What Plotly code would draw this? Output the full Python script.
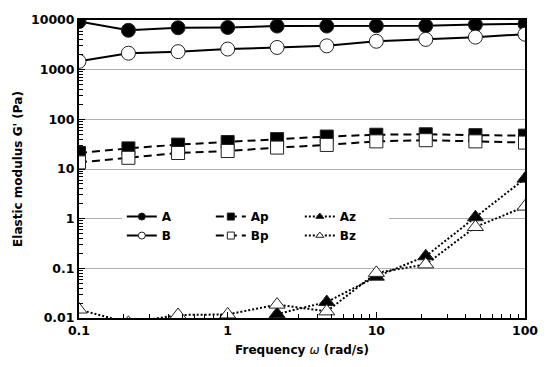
import plotly.graph_objects as go

freq = [0.1, 0.215, 0.464, 1.0, 2.15, 4.64, 10.0, 21.5, 46.4, 100.0]
A = [9300, 6200, 6980, 7080, 7540, 7540, 7640, 7640, 8100, 8350]
B = [1470, 2145, 2307, 2600, 2800, 3020, 3730, 4070, 4520, 5170]
Ap = [21, 26, 31, 35, 40, 45, 49, 50, 48, 47]
Bp = [13.6, 16.8, 21, 23, 27, 30.5, 36, 38, 36, 34]
Az = [None, None, None, None, 0.012, 0.021, 0.068, 0.175, 1.07, 6.4]
Bz = [0.0148, 0.008, 0.0115, 0.0118, 0.0186, 0.0136, 0.081, 0.12, 0.68, 1.75]

# tick labels (one per decade) and axis ranges in decades
y_ticktext = ["0.01", "0.1", "1", "10", "100", "1000", "10000"]
x_ticktext = ["0.1", "1", "10", "100"]
x_range_dec = [-1, 2]
y_range_dec = [-2, 4]

names = ["A", "B", "Ap", "Bp", "Az", "Bz"]
series = [A, B, Ap, Bp, Az, Bz]

FONT = "DejaVu Sans"
styles = {
    "A": dict(dash="solid", symbol="circle", fill="black", size=14, group="g1"),
    "B": dict(dash="solid", symbol="circle", fill="white", size=14, group="g1"),
    "Ap": dict(dash="8px,5px", symbol="square", fill="black", size=13, group="g2"),
    "Bp": dict(dash="8px,5px", symbol="square", fill="white", size=13, group="g2"),
    "Az": dict(dash="2px,2px", symbol="triangle-up", fill="black", size=14, group="g3"),
    "Bz": dict(dash="2px,2px", symbol="triangle-up", fill="white", size=14, group="g3"),
}

fig = go.Figure()
for name, vals in zip(names, series):
    s = styles[name]
    fig.add_trace(go.Scatter(
        x=freq, y=vals, mode="lines+markers", name=name, showlegend=False,
        line=dict(color="black", width=2, dash=s["dash"]),
        marker=dict(symbol=s["symbol"], size=s["size"], color=s["fill"],
                    line=dict(color="#222", width=1)),
    ))

# legend entries (no data points)
for name in names:
    s = styles[name]
    fig.add_trace(go.Scatter(
        x=[None], y=[None], mode="lines+markers", name=name, legendgroup=s["group"],
        line=dict(color="black", width=2, dash=s["dash"]),
        marker=dict(symbol=s["symbol"], size=7, color=s["fill"],
                    line=dict(color="#222", width=1)),
    ))

axis_common = dict(
    type="log", showline=True, linecolor="black", linewidth=2, mirror=True,
    ticks="inside", ticklen=6, tickcolor="black",
    tickmode="linear", tick0=0, dtick=1, tickformat="~g",
    tickfont=dict(family=FONT, size=12.5, color="black", weight="bold"),
    minor=dict(ticks="inside", ticklen=4, tickwidth=1, tickcolor="black", showgrid=False),
    zeroline=False,
)

fig.update_xaxes(
    **axis_common, range=x_range_dec, showgrid=False,
    labelalias={t: t for t in x_ticktext},
    title=dict(text="<b>Frequency </b><i>ω</i><b> (rad/s)</b>",
               font=dict(family=FONT, size=12, color="black"), standoff=9),
)
fig.update_yaxes(
    **axis_common, range=y_range_dec, showgrid=True, gridcolor="#b0b0b0", gridwidth=1,
    labelalias={t: t for t in y_ticktext},
    title=dict(text="<b>Elastic modulus G' (Pa)</b>",
               font=dict(family=FONT, size=12, color="black"), standoff=6),
)

fig.update_layout(
    width=550, height=367,
    margin=dict(l=79, r=22, t=14, b=45),
    paper_bgcolor="white", plot_bgcolor="white",
    showlegend=True,
    legend=dict(
        orientation="h", traceorder="grouped", entrywidth=44,
        x=0.096, xanchor="left", y=0.389, yanchor="top",
        bgcolor="white", borderwidth=0, tracegroupgap=0,
        font=dict(family=FONT, size=12, color="black", weight="bold"),
    ),
)

fig.write_html("out.html")
